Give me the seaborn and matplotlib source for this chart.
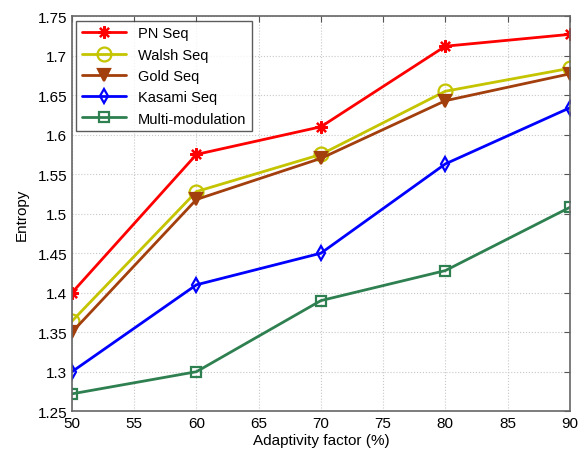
import numpy as np
import pandas as pd
import matplotlib
matplotlib.use("Agg")
import matplotlib.pyplot as plt
import seaborn as sns
from matplotlib.ticker import FuncFormatter

# -------------------- DATA --------------------
adaptivity = [50, 60, 70, 80, 90]
pn_seq = [1.400, 1.575, 1.610, 1.712, 1.727]
walsh_seq = [1.364, 1.528, 1.575, 1.655, 1.684]
gold_seq = [1.350, 1.518, 1.570, 1.643, 1.677]
kasami_seq = [1.300, 1.410, 1.450, 1.563, 1.634]
multi_mod = [1.272, 1.300, 1.390, 1.428, 1.508]

series_names = ["PN Seq", "Walsh Seq", "Gold Seq", "Kasami Seq", "Multi-modulation"]
series_vals = [pn_seq, walsh_seq, gold_seq, kasami_seq, multi_mod]

# -------------------- STYLE --------------------
sns.set_style("white")
plt.rcParams["font.family"] = ["Liberation Sans", "DejaVu Sans"]
plt.rcParams["text.color"] = "black"
plt.rcParams["axes.labelcolor"] = "black"
plt.rcParams["xtick.color"] = "black"
plt.rcParams["ytick.color"] = "black"

colors = ["#ff0000", "#c4c400", "#a23f0c", "#0000ff", "#2e8050"]
markers = [(8, 2, 0), "o", "v", "d", "s"]
filled = [True, False, True, False, False]
msizes = [9, 10, 8, 7, 7]

df = pd.DataFrame({
    "x": np.tile(adaptivity, len(series_names)),
    "y": np.concatenate(series_vals),
    "series": np.repeat(series_names, len(adaptivity)),
})

fig = plt.figure(figsize=(5.85, 4.52), dpi=100)
ax = fig.add_axes([0.123, 0.088, 0.851, 0.874])

for name, c, m, f, ms in zip(series_names, colors, markers, filled, msizes):
    sub = df[df["series"] == name]
    sns.lineplot(data=sub, x="x", y="y", ax=ax, color=c, linewidth=2,
                 marker=m, markersize=ms, markeredgewidth=1.6,
                 markerfacecolor=c if f else "none", markeredgecolor=c,
                 label=name)

ax.set_xlim(50, 90)
ax.set_ylim(1.25, 1.75)
ax.set_xticks(np.arange(50, 91, 5))
ax.set_yticks(np.arange(1.25, 1.751, 0.05))
ax.yaxis.set_major_formatter(FuncFormatter(lambda v, p: f"{v:.2f}".rstrip("0")))
ax.tick_params(direction="in", length=4, labelsize=11)
ax.tick_params(top=True, right=True, color="#555555")
ax.grid(True, linestyle=":", color="#c8c8c8", linewidth=0.8)
for sp in ax.spines.values():
    sp.set_color("#666666")
    sp.set_linewidth(1.2)

ax.set_xlabel("Adaptivity factor (%)", fontsize=11, labelpad=2)
ax.set_ylabel("Entropy", fontsize=11, labelpad=6)

leg = ax.legend(loc="upper left", fontsize=10.5, frameon=True, fancybox=False,
                borderaxespad=0.3, handlelength=3.0, labelspacing=0.5,
                borderpad=0.4)
leg.get_frame().set_edgecolor("#333333")
leg.get_frame().set_linewidth(1.0)

fig.savefig("out.png", dpi=100)
